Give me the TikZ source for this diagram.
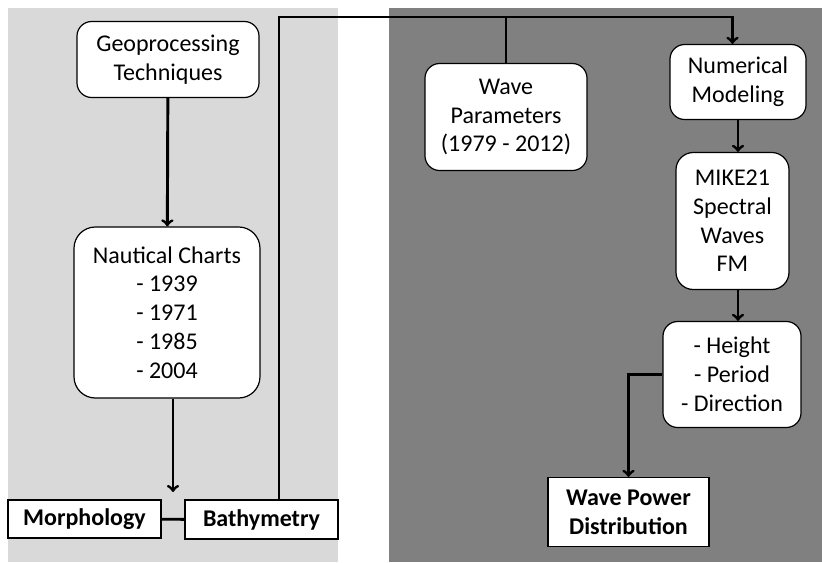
\documentclass[tikz,border=0pt]{standalone}
\usepackage{fontspec}
\setmainfont{Carlito}
\usetikzlibrary{positioning, arrows}
\definecolor{panellight}{RGB}{217,217,217}
\definecolor{paneldark}{RGB}{128,128,128}
\newdimen\pxu
\pxu=0.75pt

\begin{document}
\begin{tikzpicture}[x=0.75pt, y=-0.75pt,
  every node/.style={font=\fontsize{18}{21.6}\selectfont},
  roundbox/.style={draw, fill=white, line width=0.9pt, rounded corners=#1, align=center, inner sep=0pt},
  roundbox/.default=11pt,
  flatbox/.style={draw, fill=white, line width=0.9pt, align=center, inner sep=0pt, font=\fontsize{18}{21.6}\selectfont\bfseries},
  link/.style={line width=2.2pt, ->},
  joint/.style={line width=2.2pt}]

% Picture frame (pixel units)
\useasboundingbox (0,0) rectangle (822,562);

% Vertical positions
\def\yTop{17}
\def\yGap{492}

% Background panels
\fill[panellight] (8,8) rectangle (338,562);
\fill[paneldark] (389,8) rectangle (822,562);

% Left panel: bathymetry side
\node[roundbox, minimum width=182\pxu, minimum height=76\pxu] (geo) at (168,59.5) {Geoprocessing\\Techniques};
\node[roundbox=16pt, minimum width=186\pxu, minimum height=171\pxu] (charts) at (167,312.5) {Nautical Charts\\- 1939\\- 1971\\- 1985\\- 2004};
\node[flatbox, minimum width=153\pxu, minimum height=38\pxu] (morph) at (84.5,519) {Morphology};
\node[flatbox, minimum width=153\pxu, minimum height=39\pxu] (bathy) at (261.5,519.5) {Bathymetry};

% Right panel: wave side
\node[roundbox, minimum width=162\pxu, minimum height=107\pxu] (wavepar) at (506,117) {Wave\\Parameters\\(1979 - 2012)};
\node[roundbox, minimum width=136\pxu, minimum height=75\pxu] (nummod) at (738,82) {Numerical\\Modeling};
\node[roundbox=13pt, minimum width=113\pxu, minimum height=137\pxu] (mike) at (732.5,221) {MIKE21\\Spectral\\Waves\\FM};
\node[roundbox, minimum width=138\pxu, minimum height=106\pxu] (params) at (732,374.5) {- Height\\- Period\\- Direction};
\node[flatbox, minimum width=161\pxu, minimum height=69\pxu] (power) at (628.5,512) {Wave Power\\Distribution};

% Free ends of the connectors
\coordinate (gap) at (173,\yGap);
\coordinate (top) at (279,\yTop);

% Connectors
\draw[link] (geo) -- (charts);
\draw[link] (charts.south -| gap) -- (gap);
\draw[joint] (morph) -- (bathy);
\draw[link] (bathy.north -| top) -- (top) -| (nummod.north -| mike.north);
\draw[joint] (wavepar) -- (wavepar.north |- top);
\draw[link] (nummod.south -| 738,0) -- (mike.north -| 738,0);
\draw[link] (mike.south -| 738,0) -- (params.north -| 738,0);
\draw[link] (params.west) -| (power);

\end{tikzpicture}
\end{document}
